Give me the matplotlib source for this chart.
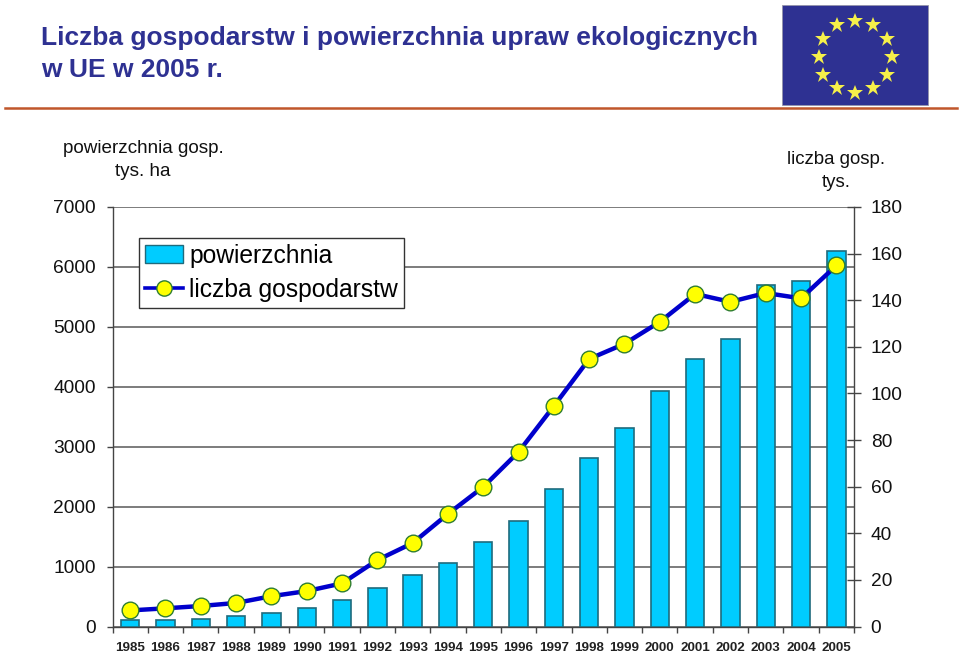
import numpy as np
import matplotlib
matplotlib.use('Agg')
import matplotlib.pyplot as plt
from matplotlib.lines import Line2D
from matplotlib.patches import Patch, Rectangle

plt.rcParams['font.family'] = ['Liberation Sans', 'DejaVu Sans']

lata = ['1985', '1986', '1987', '1988', '1989', '1990', '1991', '1992', '1993', '1994', '1995',
        '1996', '1997', '1998', '1999', '2000', '2001', '2002', '2003', '2004', '2005']
powierzchnia = [110, 110, 130, 175, 225, 315, 440, 640, 855, 1065, 1410,
                1765, 2300, 2820, 3310, 3935, 4460, 4800, 5700, 5770, 6260]
liczba = [6.9, 7.8, 8.8, 10.1, 13, 15.2, 18.5, 28.5, 35.8, 48.3, 59.9,
          74.9, 94.6, 114.8, 121.3, 130.7, 142.7, 139.3, 143.1, 140.8, 154.9]
ticki_lewe = [0, 1000, 2000, 3000, 4000, 5000, 6000, 7000]
ticki_prawe = [0, 20, 40, 60, 80, 100, 120, 140, 160, 180]

W, H = 960, 653
GRANAT = '#2E3192'
NIEBIESKI = '#00CCFF'
KRAWEDZ = '#1F6B7D'

fig = plt.figure(figsize=(W / 100, H / 100), dpi=100)

# wykres - pozycja w pikselach
ax = fig.add_axes([112.5 / W, 1 - 626.5 / H, 741.5 / W, 419.5 / H])
x = np.arange(len(lata))
ax.bar(x, powierzchnia, width=0.52, color=NIEBIESKI, edgecolor=KRAWEDZ, linewidth=1.2, zorder=3)
ax.set_xlim(-0.5, len(lata) - 0.5)
ax.set_ylim(0, 7000)
ax.set_yticks(ticki_lewe)
ax.grid(axis='y', color='#666666', linewidth=1.2, zorder=0)
ax.set_axisbelow(True)
ax.set_xticks(np.arange(len(lata) + 1) - 0.5, minor=False)
ax.set_xticklabels([])
ax.set_xticks(x, minor=True)
ax.set_xticklabels(lata, minor=True, fontsize=9.6, fontweight='bold', color='#222222')
ax.tick_params(axis='x', which='major', length=4.5, width=1, color='#444444')
ax.tick_params(axis='x', which='minor', length=0, pad=11)
ax.tick_params(axis='y', length=4.5, width=1, color='#444444', labelsize=13.8, pad=7.7, labelcolor='#111111')
for s in ['top', 'right']:
    ax.spines[s].set_visible(False)
for s in ['left', 'bottom']:
    ax.spines[s].set_color('#444444')
    ax.spines[s].set_linewidth(1)

ax2 = ax.twinx()
ax2.plot(x, liczba, color='#0000CC', linewidth=3.2, marker='o', markersize=12,
         markerfacecolor='#FFFF00', markeredgecolor='#2E7D32', markeredgewidth=1)
ax2.set_ylim(0, 180)
ax2.set_yticks(ticki_prawe)
ax2.tick_params(axis='y', direction='inout', length=10, width=1, color='#444444',
                labelsize=13.8, pad=7, labelcolor='#111111')
for s in ['top', 'left', 'bottom']:
    ax2.spines[s].set_visible(False)
ax2.spines['right'].set_color('#444444')
ax2.spines['right'].set_linewidth(1)

uchwyty = [Patch(facecolor=NIEBIESKI, edgecolor=KRAWEDZ, linewidth=1, label='powierzchnia'),
           Line2D([0], [0], color='#0000CC', linewidth=2.6, marker='o', markersize=11,
                  markerfacecolor='#FFFF00', markeredgecolor='#2E7D32', label='liczba gospodarstw')]
leg = ax2.legend(handles=uchwyty, loc='upper left', bbox_to_anchor=(139 / W, 1 - 237.5 / H),
                 bbox_transform=fig.transFigure, fontsize=17.7, fancybox=False, framealpha=1,
                 edgecolor='#333333', borderaxespad=0, handlelength=1.55, handletextpad=0.25,
                 labelspacing=0.42, borderpad=0.25, columnspacing=0)
leg.get_frame().set_linewidth(1)

# tytul i opisy osi
fig.text(41 / W, 1 - 44.5 / H, 'Liczba gospodarstw i powierzchnia upraw ekologicznych',
         fontsize=19.0, fontweight='bold', color=GRANAT, va='baseline')
fig.text(41 / W, 1 - 77 / H, 'w UE w 2005 r.', fontsize=19.0, fontweight='bold', color=GRANAT, va='baseline')
fig.text(143 / W, 1 - 153 / H, 'powierzchnia gosp.', fontsize=13.6, ha='center', va='baseline', color='#111111')
fig.text(143 / W, 1 - 176 / H, 'tys. ha', fontsize=13.6, ha='center', va='baseline', color='#111111')
fig.text(836 / W, 1 - 164 / H, 'liczba gosp.', fontsize=13.4, ha='center', va='baseline', color='#111111')
fig.text(836 / W, 1 - 187 / H, 'tys.', fontsize=13.4, ha='center', va='baseline', color='#111111')

# kreska pod tytulem i flaga UE
fig.add_artist(Line2D([5 / W, 957 / W], [1 - 108 / H, 1 - 108 / H], color='#C0562B', linewidth=1.8))
flaga = fig.add_axes([782 / W, 1 - 106 / H, 147 / W, 101 / H])
flaga.set_xlim(782, 929)
flaga.set_ylim(106, 5)
flaga.axis('off')
flaga.add_patch(Rectangle((782, 5), 147, 101, facecolor='#2E3192', edgecolor='#A9A9B5', linewidth=1.2))
kat = np.deg2rad(np.arange(0, 360, 30))
flaga.plot(855 + 36.5 * np.sin(kat), 56.5 - 36 * np.cos(kat), linestyle='none', marker='*',
           markersize=12, color='#F6F04A', markeredgewidth=0)

fig.savefig('out.png', dpi=100)
